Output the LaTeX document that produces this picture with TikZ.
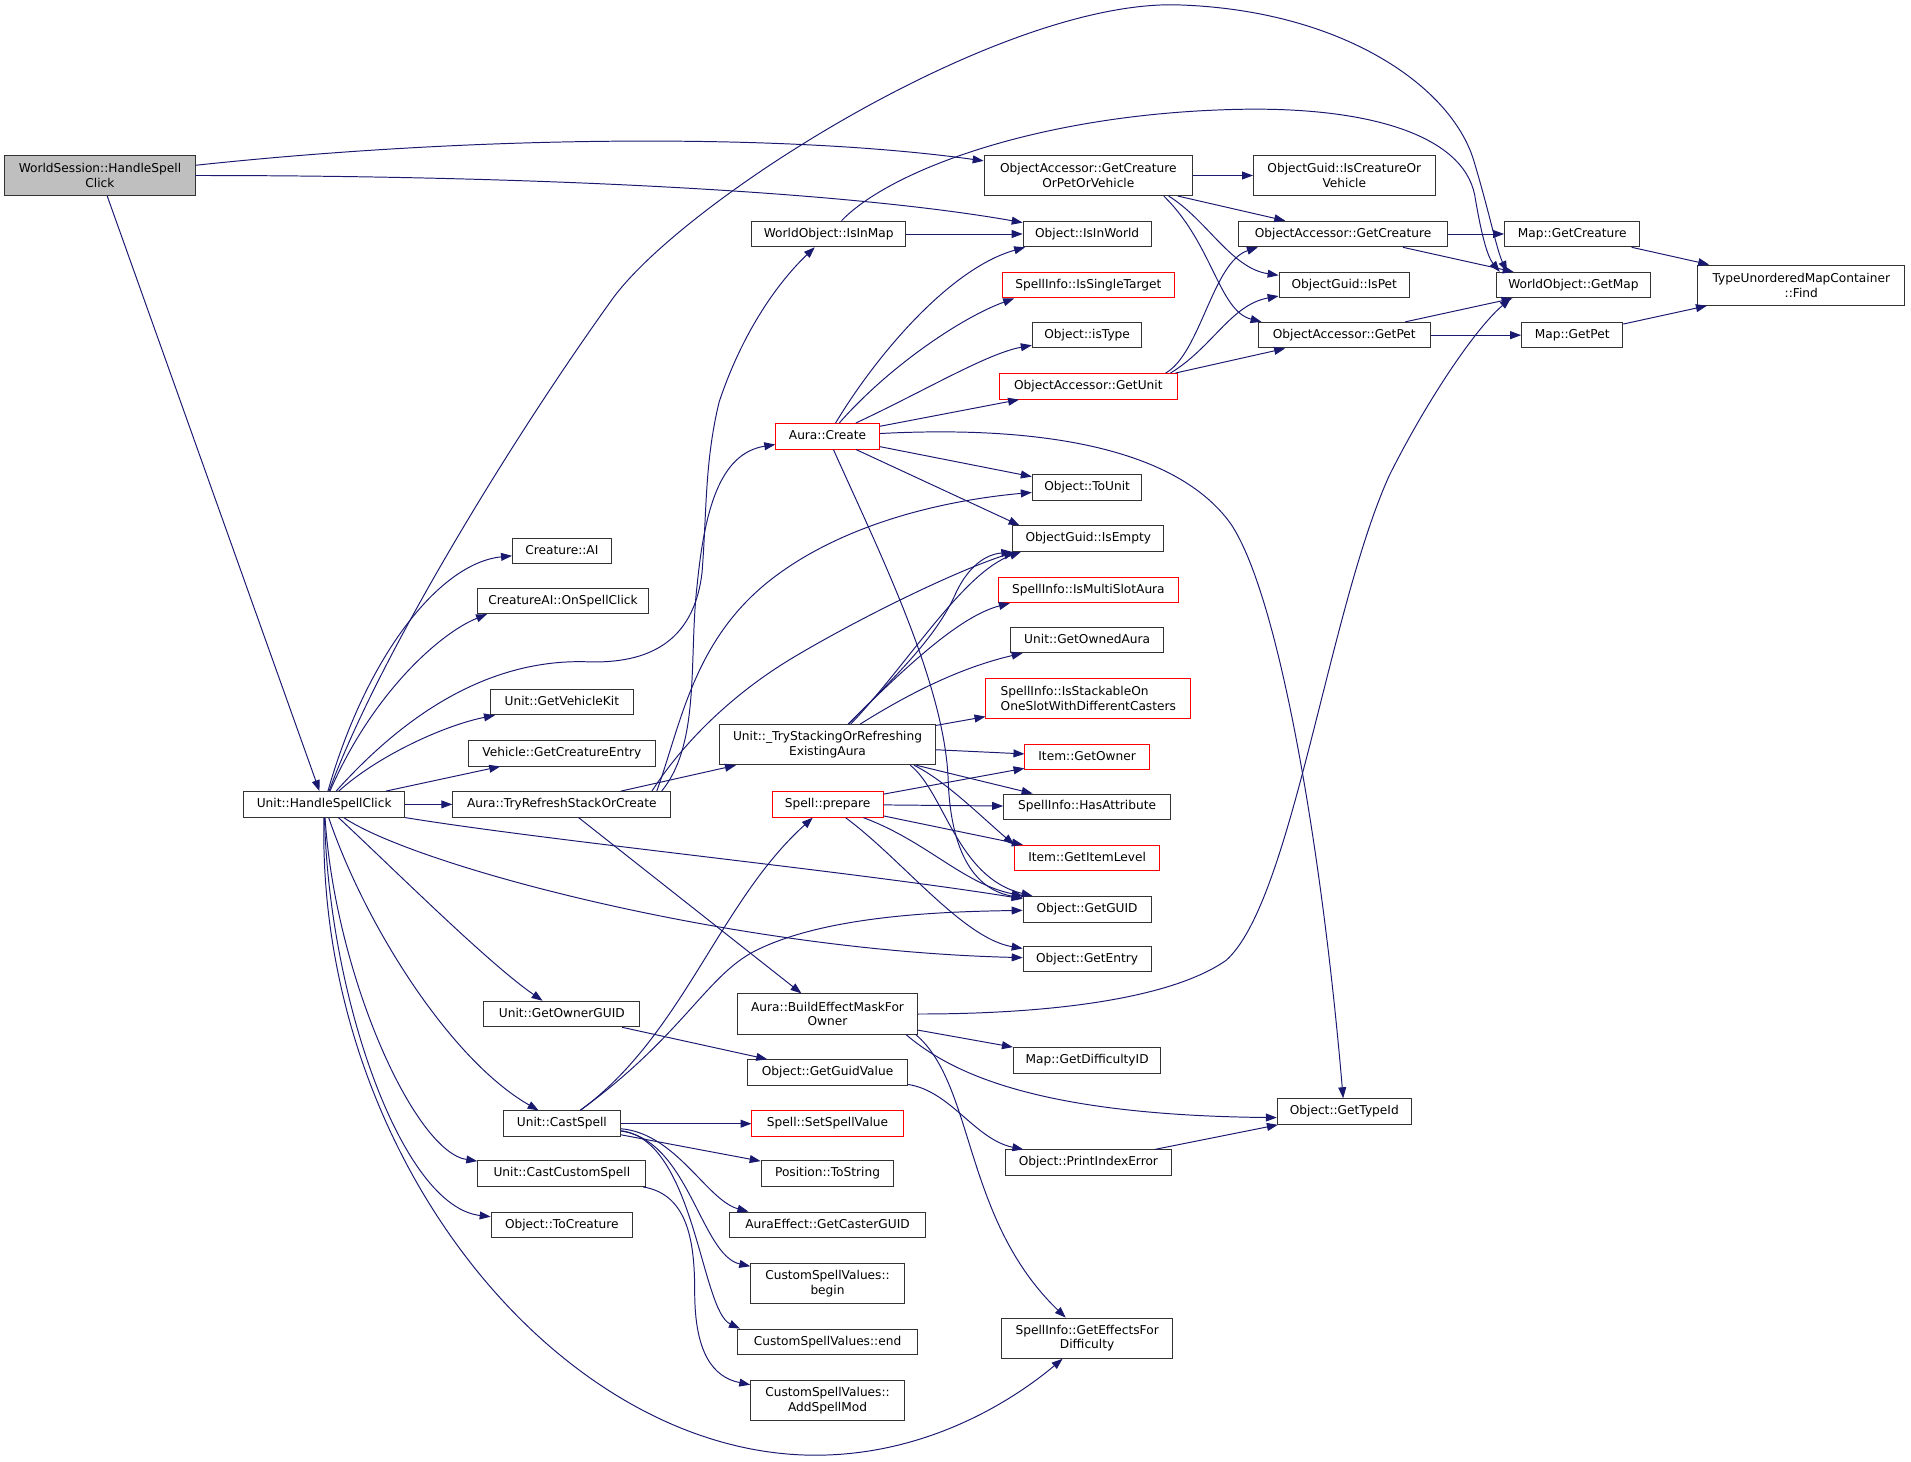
\documentclass[tikz,border=0pt]{standalone}
\usepackage{fontspec}
\setmainfont{DejaVu Sans}
\usetikzlibrary{arrows.meta}

\definecolor{callblue}{HTML}{191970}
\definecolor{rootgray}{HTML}{BFBFBF}

\tikzset{
  fnshape/.style={rectangle, draw=black!80, line width=0.8pt, align=center,
    inner xsep=6pt, inner ysep=5.5pt, minimum height=21pt,
    font=\fontsize{10}{12}\selectfont},
  fn/.style={fnshape, text height=7.6pt, text depth=2.4pt},
  fnmissing/.style={fn, draw=red},
  fnwide/.style={fnshape, minimum height=33pt},
  fnroot/.style={fnwide, fill=rootgray},
  call/.style={->, draw=callblue, line width=0.8pt},
}

\begin{document}
\begin{tikzpicture}[x=1pt, y=-1pt, >={Triangle[length=9pt,width=6.5pt]}]
\useasboundingbox (0,0) rectangle (1568,1199);

% callers
\node[fnroot, minimum width=156pt] (ws) at (82,144) {WorldSession::HandleSpell\\Click};
\node[fn, minimum width=132pt] (uhsc) at (266,660) {Unit::HandleSpellClick};

% first column
\node[fn, minimum width=81pt] (cai) at (461,452) {Creature::AI};
\node[fn, minimum width=140pt] (caos) at (462,493) {CreatureAI::OnSpellClick};
\node[fn, minimum width=117pt] (gvk) at (461,576) {Unit::GetVehicleKit};
\node[fn, minimum width=153pt] (vgce) at (461,618) {Vehicle::GetCreatureEntry};
\node[fn, minimum width=179pt] (atr) at (461,660) {Aura::TryRefreshStackOrCreate};
\node[fn, minimum width=128pt] (gog) at (461,832) {Unit::GetOwnerGUID};
\node[fn, minimum width=96pt] (ucs) at (461,922) {Unit::CastSpell};
\node[fn, minimum width=138pt] (uccs) at (461,963) {Unit::CastCustomSpell};
\node[fn, minimum width=116pt] (otc) at (461,1005) {Object::ToCreature};

% second column
\node[fn, minimum width=126pt] (woim) at (680,192) {WorldObject::IsInMap};
\node[fnmissing, minimum width=85pt] (acr) at (679,358) {Aura::Create};
\node[fnwide, minimum width=177pt] (uts) at (679,611) {Unit::\_TryStackingOrRefreshing\\ExistingAura};
\node[fnmissing, minimum width=91pt] (spp) at (679,660) {Spell::prepare};
\node[fnwide, minimum width=148pt] (abem) at (679,832) {Aura::BuildEffectMaskFor\\Owner};
\node[fn, minimum width=131pt] (ogv) at (679,880) {Object::GetGuidValue};
\node[fnmissing, minimum width=124pt] (ssv) at (679,922) {Spell::SetSpellValue};
\node[fn, minimum width=109pt] (pts) at (679,963) {Position::ToString};
\node[fn, minimum width=161pt] (aegc) at (679,1005) {AuraEffect::GetCasterGUID};
\node[fnwide, minimum width=126pt] (csvb) at (679,1053) {CustomSpellValues::\\begin};
\node[fn, minimum width=147pt] (csve) at (679,1101) {CustomSpellValues::end};
\node[fnwide, minimum width=126pt] (csva) at (679,1149) {CustomSpellValues::\\AddSpellMod};

% third column
\node[fnwide, minimum width=171pt] (oag) at (893,144) {ObjectAccessor::GetCreature\\OrPetOrVehicle};
\node[fn, minimum width=105pt] (oiw) at (892,192) {Object::IsInWorld};
\node[fnmissing, minimum width=141pt] (sist) at (893,234) {SpellInfo::IsSingleTarget};
\node[fn, minimum width=90pt] (oit) at (892,275) {Object::isType};
\node[fnmissing, minimum width=146pt] (ogu) at (893,317) {ObjectAccessor::GetUnit};
\node[fn, minimum width=90pt] (otu) at (892,400) {Object::ToUnit};
\node[fn, minimum width=124pt] (oie) at (893,442) {ObjectGuid::IsEmpty};
\node[fnmissing, minimum width=148pt] (sims) at (893,484) {SpellInfo::IsMultiSlotAura};
\node[fn, minimum width=125pt] (ugoa) at (892,525) {Unit::GetOwnedAura};
\node[fnwide, draw=red, minimum width=168pt, align=left] (siso) at (893,573) {SpellInfo::IsStackableOn\\OneSlotWithDifferentCasters};
\node[fnmissing, minimum width=102pt] (igo) at (892,621) {Item::GetOwner};
\node[fn, minimum width=137pt] (sha) at (892,662) {SpellInfo::HasAttribute};
\node[fnmissing, minimum width=119pt] (igil) at (892,704) {Item::GetItemLevel};
\node[fn, minimum width=105pt] (ogg) at (892,746) {Object::GetGUID};
\node[fn, minimum width=105pt] (oge) at (892,787) {Object::GetEntry};
\node[fn, minimum width=121pt] (mgd) at (892,870) {Map::GetDifficultyID};
\node[fn, minimum width=136pt] (opie) at (893,954) {Object::PrintIndexError};
\node[fnwide, minimum width=140pt] (sigd) at (892,1098) {SpellInfo::GetEffectsFor\\Difficulty};

% fourth column
\node[fnwide, minimum width=149pt] (ogic) at (1103,144) {ObjectGuid::IsCreatureOr\\Vehicle};
\node[fn, minimum width=171pt] (oagc) at (1102,192) {ObjectAccessor::GetCreature};
\node[fn, minimum width=107pt] (ogip) at (1103,234) {ObjectGuid::IsPet};
\node[fn, minimum width=141pt] (oagp) at (1103,275) {ObjectAccessor::GetPet};
\node[fn, minimum width=110pt] (ogti) at (1103,912) {Object::GetTypeId};

% last columns
\node[fn, minimum width=111pt] (mgc) at (1290,192) {Map::GetCreature};
\node[fn, minimum width=126pt] (wogm) at (1291,234) {WorldObject::GetMap};
\node[fn, minimum width=83pt] (mgp) at (1290,275) {Map::GetPet};
\node[fnwide, minimum width=170pt] (tumf) at (1478,234) {TypeUnorderedMapContainer\\::Find};

% WorldSession::HandleSpellClick
\draw[call] (ws) .. controls (400,110) and (650,110) .. (oag);
\draw[call] (ws) .. controls (450,144) and (700,158) .. (oiw);
\draw[call] (ws) -- (uhsc);

% Unit::HandleSpellClick
\draw[call] (uhsc) .. controls (310,540) and (420,360) .. (502,246) .. controls (560,165) and (820,0) .. (966,4) .. controls (1100,8) and (1190,70) .. (1209,131) .. controls (1222,174) and (1228,205) .. ([xshift=9pt]wogm.north west);
\draw[call] (uhsc) .. controls (300,540) and (360,462) .. (cai);
\draw[call] (uhsc) .. controls (305,570) and (360,520) .. ([xshift=8pt]caos.south west);
\draw[call] (uhsc) .. controls (320,600) and (390,540) .. (482,543) .. controls (540,545) and (570,520) .. (576,470) .. controls (580,420) and (578,380) .. (590,330) .. controls (610,270) and (640,230) .. (woim);
\draw[call] (uhsc) .. controls (310,620) and (365,595) .. ([xshift=4pt]gvk.south west);
\draw[call] (uhsc) -- (vgce);
\draw[call] (uhsc) -- (atr);
\draw[call] (uhsc) .. controls (450,690) and (700,715) .. (ogg);
\draw[call] (uhsc) .. controls (340,710) and (600,780) .. (oge);
\draw[call] (uhsc) .. controls (320,710) and (400,790) .. (gog);
\draw[call] (uhsc) .. controls (300,760) and (370,870) .. (ucs);
\draw[call] (uhsc) .. controls (275,800) and (340,945) .. (uccs);
\draw[call] (uhsc) .. controls (270,820) and (330,990) .. (otc);
\draw[call] (uhsc) .. controls (260,950) and (460,1194) .. (669,1194) .. controls (760,1194) and (830,1150) .. (sigd);

% Aura::TryRefreshStackOrCreate
\draw[call] (atr) -- (uts);
\draw[call] ([xshift=-8pt]atr.north east) .. controls (575,610) and (565,540) .. (572,480) .. controls (578,420) and (590,372) .. (acr);
\draw[call] ([xshift=-12pt]atr.north east) .. controls (560,590) and (570,520) .. (640,470) .. controls (700,427) and (780,410) .. (otu);
\draw[call] ([xshift=-16pt]atr.north east) .. controls (560,610) and (600,570) .. (650,540) .. controls (700,510) and (780,470) .. ([xshift=2pt]oie.south west);
\draw[call] (atr) -- (abem);

% WorldObject::IsInMap
\draw[call] (woim) -- (oiw);
\draw[call] (woim) .. controls (730,140) and (850,95) .. (1006,90) .. controls (1120,86) and (1200,110) .. (1210,160) .. controls (1215,190) and (1220,210) .. ([xshift=3pt]wogm.north west);

% Aura::Create
\draw[call] (acr) .. controls (720,290) and (780,220) .. ([xshift=2pt]oiw.south west);
\draw[call] (acr) .. controls (730,300) and (790,260) .. ([xshift=10pt]sist.south west);
\draw[call] (acr) .. controls (760,320) and (810,290) .. (oit);
\draw[call] (acr) -- (ogu);
\draw[call] (acr) -- (otu);
\draw[call] (acr) -- ([xshift=6pt]oie.north west);
\draw[call] (acr) .. controls (830,350) and (960,360) .. (1010,430) .. controls (1050,490) and (1085,700) .. (ogti);
\draw[call] (acr) .. controls (720,450) and (775,560) .. (778,640) .. controls (780,700) and (800,730) .. (ogg);

% Unit::_TryStackingOrRefreshingExistingAura
\draw[call] ([xshift=17pt]uts.north) .. controls (740,550) and (770,520) .. (785,485) .. controls (795,465) and (808,455) .. (oie.south west);
\draw[call] ([xshift=19pt]uts.north) .. controls (745,545) and (790,470) .. ([xshift=7pt]oie.south west);
\draw[call] (uts) .. controls (750,540) and (790,505) .. ([xshift=10pt]sims.south west);
\draw[call] (uts) .. controls (760,560) and (800,545) .. ([xshift=10pt]ugoa.south west);
\draw[call] (uts) -- (siso);
\draw[call] (uts) -- (igo);
\draw[call] ([xshift=-16pt]uts.south east) -- (sha);
\draw[call] ([xshift=-18pt]uts.south east) .. controls (775,640) and (805,670) .. (igil.north west);
\draw[call] ([xshift=-21pt]uts.south east) .. controls (775,650) and (785,720) .. (ogg);

% Spell::prepare
\draw[call] (spp) -- (igo);
\draw[call] (spp) -- (sha);
\draw[call] (spp) -- (igil);
\draw[call] (spp) .. controls (760,690) and (790,725) .. (ogg);
\draw[call] (spp) .. controls (740,705) and (790,770) .. (oge);

% Unit::CastSpell
\draw[call] (ucs) .. controls (560,850) and (590,740) .. (spp);
\draw[call] (ucs) .. controls (560,850) and (580,800) .. (620,780) .. controls (680,750) and (780,748) .. (ogg);
\draw[call] (ucs) -- (ssv);
\draw[call] (ucs) -- (pts);
\draw[call] (ucs) .. controls (555,930) and (580,985) .. ([xshift=16pt]aegc.north west);
\draw[call] (ucs) .. controls (565,935) and (575,1030) .. (csvb);
\draw[call] (ucs) .. controls (570,935) and (575,1075) .. ([xshift=2pt]csve.north west);
\draw[call] (uccs) .. controls (565,980) and (570,1020) .. (570,1060) .. controls (570,1110) and (585,1130) .. (csva);

% owner guid
\draw[call] (gog) -- (ogv);
\draw[call] (ogv) .. controls (780,895) and (800,935) .. (opie);
\draw[call] (opie) -- (ogti);

% Aura::BuildEffectMaskForOwner
\draw[call] (abem) .. controls (860,832) and (960,820) .. (1006,788) .. controls (1060,740) and (1090,500) .. (1140,390) .. controls (1170,330) and (1210,270) .. ([xshift=12pt]wogm.south west);
\draw[call] (abem) -- (mgd);
\draw[call] ([xshift=-10pt]abem.south east) .. controls (780,880) and (850,915) .. ([yshift=-5pt]ogti.west);
\draw[call] ([xshift=-2pt]abem.south east) .. controls (800,890) and (790,1000) .. (sigd);

% ObjectAccessor
\draw[call] (oag) -- (ogic);
\draw[call] (oag) -- (oagc);
\draw[call] ([xshift=-20pt]oag.south east) .. controls (990,180) and (1010,220) .. (ogip);
\draw[call] ([xshift=-24pt]oag.south east) .. controls (995,200) and (1000,255) .. ([xshift=3pt]oagp.north west);
\draw[call] ([xshift=-10pt]ogu.north east) .. controls (985,290) and (995,215) .. ([xshift=16pt]oagc.south west);
\draw[call] ([xshift=-6pt]ogu.north east) .. controls (995,285) and (1010,250) .. ([yshift=2pt]ogip.south west);
\draw[call] ([xshift=-2pt]ogu.north east) -- (oagp);
\draw[call] (oagc) -- (mgc);
\draw[call] (oagc) -- (wogm);
\draw[call] (oagp) -- (wogm);
\draw[call] (oagp) -- (mgp);

% maps
\draw[call] (mgc) -- (tumf);
\draw[call] (mgp) -- (tumf);

\end{tikzpicture}
\end{document}
